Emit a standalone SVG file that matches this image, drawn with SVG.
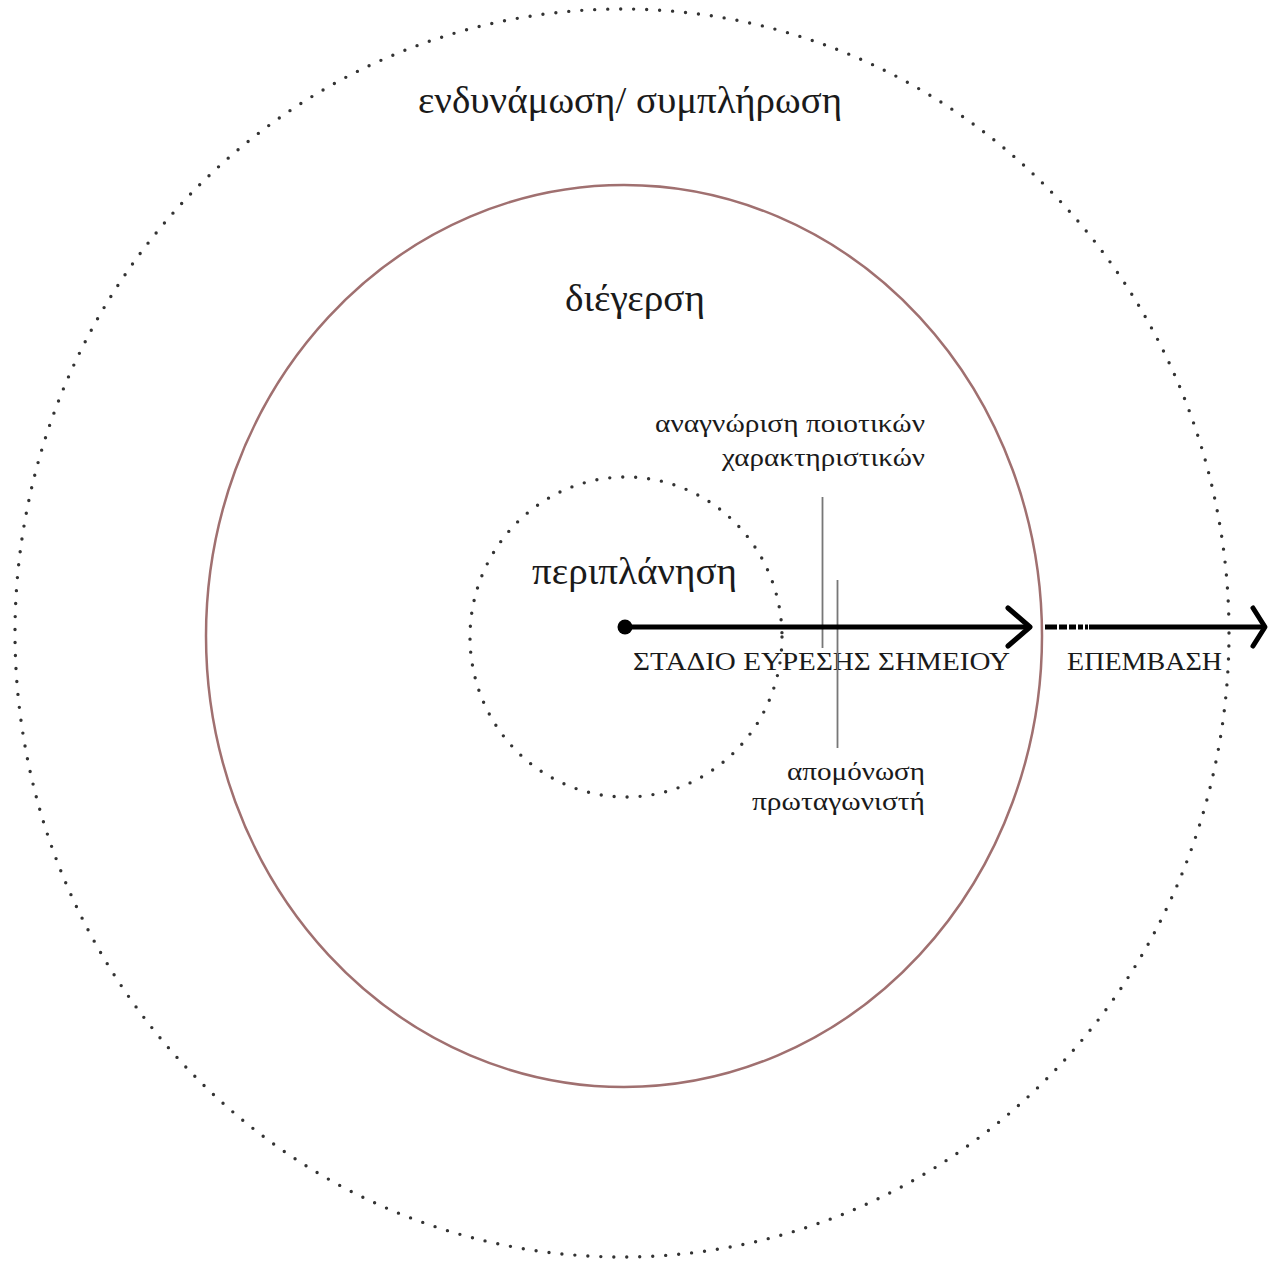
<svg xmlns="http://www.w3.org/2000/svg" width="1268" height="1265" viewBox="0 0 1268 1265">
<defs>
<style>
.dots{fill:none;stroke:#333;stroke-width:3.4;stroke-linecap:round;stroke-dasharray:0 13}
.ring{fill:none;stroke:#a07070;stroke-width:2.5}
.t{font-family:"Liberation Serif","DejaVu Serif",serif;fill:#1a1a1a}
.big{font-size:37px}
.small{font-size:26px}
.caps{font-size:26px}
.guide{stroke:#777;stroke-width:1.8}
.main{stroke:#000;stroke-width:5;fill:none}
.head{stroke:#000;stroke-width:5;fill:none;stroke-linecap:round;stroke-linejoin:round}
</style>
</defs>
<rect width="1268" height="1265" fill="#fff"/>
<g id="outer-zone">
<ellipse class="dots" cx="622" cy="633" rx="607" ry="624"/>
<text class="t big" x="418" y="113" textLength="424" lengthAdjust="spacingAndGlyphs">ενδυνάμωση/ συμπλήρωση</text>
</g>
<g id="middle-zone">
<ellipse class="ring" cx="624" cy="636" rx="418" ry="451"/>
<text class="t big" x="565" y="311" textLength="140" lengthAdjust="spacingAndGlyphs">διέγερση</text>
</g>
<g id="inner-zone">
<ellipse class="dots" cx="626" cy="637" rx="156" ry="160"/>
<text class="t big" x="532" y="584" textLength="205" lengthAdjust="spacingAndGlyphs">περιπλάνηση</text>
</g>
<g id="label-recognition">
<text class="t small" x="925" y="432" text-anchor="end" textLength="270" lengthAdjust="spacingAndGlyphs">αναγνώριση ποιοτικών</text>
<text class="t small" x="925" y="466" text-anchor="end" textLength="203" lengthAdjust="spacingAndGlyphs">χαρακτηριστικών</text>
</g>
<g id="label-isolation">
<text class="t small" x="925" y="780" text-anchor="end" textLength="138" lengthAdjust="spacingAndGlyphs">απομόνωση</text>
<text class="t small" x="925" y="810" text-anchor="end" textLength="173" lengthAdjust="spacingAndGlyphs">πρωταγωνιστή</text>
</g>
<g id="label-stage">
<text class="t caps" x="633" y="670" textLength="377" lengthAdjust="spacingAndGlyphs">ΣΤΑΔΙΟ ΕΥΡΕΣΗΣ ΣΗΜΕΙΟΥ</text>
</g>
<g id="label-intervention">
<text class="t caps" x="1067" y="670" textLength="155" lengthAdjust="spacingAndGlyphs">ΕΠΕΜΒΑΣΗ</text>
</g>
<g id="connectors">
<line class="guide" x1="822.5" y1="497" x2="822.5" y2="648"/>
<line class="guide" x1="837.5" y1="580" x2="837.5" y2="748"/>
<circle cx="625" cy="627" r="7.5" fill="#000"/>
<line class="main" x1="625" y1="627" x2="1028" y2="627"/>
<polyline class="head" points="1008,608 1030,627 1008,646"/>
<line class="main" x1="1045" y1="627" x2="1089" y2="627" stroke-dasharray="12 2 8 2 7 2 5 2 3 2"/>
<line class="main" x1="1089" y1="627" x2="1264" y2="627"/>
<polyline class="head" points="1253,608 1265,627 1253,646"/>
</g>
</svg>
